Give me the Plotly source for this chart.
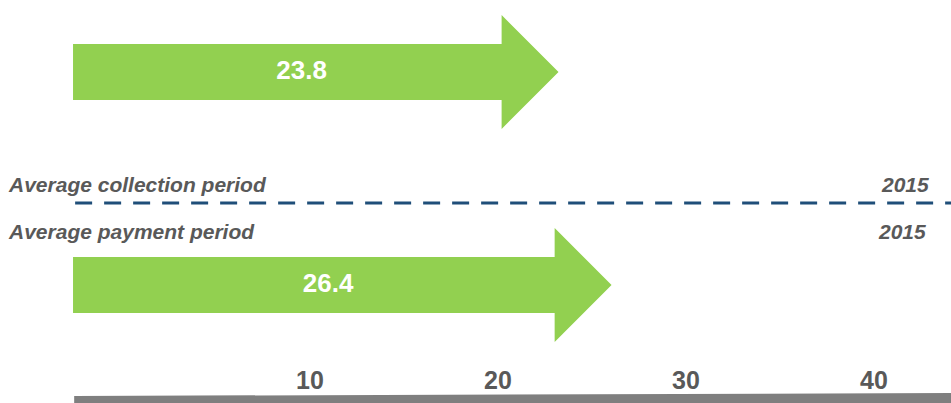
import plotly.graph_objects as go

# data
PERIODS = ["Average collection period", "Average payment period"]
DAYS = [23.8, 26.4]
YEAR = "2015"
ROW = [1, 0]                 # arrow row on the y scale
TICKS = [10, 20, 30, 40]

GREEN = "#92D050"
GRAY_TEXT = "#595959"
DASH_BLUE = "#1F4E79"

HEAD_LEN = 2.79      # arrow head length, in days
BODY_HALF = 0.1315   # half-height of arrow shaft (row units)
HEAD_HALF = 0.2676   # half-height of arrow head (row units)

fig = go.Figure()

for name, v, r in zip(PERIODS, DAYS, ROW):
    hb = v - HEAD_LEN
    xs = [0, hb, hb, v, hb, hb, 0, 0]
    ys = [r + BODY_HALF, r + BODY_HALF, r + HEAD_HALF, r,
          r - HEAD_HALF, r - BODY_HALF, r - BODY_HALF, r + BODY_HALF]
    fig.add_trace(go.Scatter(
        x=xs, y=ys, xaxis="x2", mode="lines", fill="toself",
        fillcolor=GREEN, line=dict(width=0, color=GREEN),
        hoverinfo="skip", showlegend=False, name=name,
    ))
    fig.add_trace(go.Scatter(
        x=[(v - HEAD_LEN / 2) / 2], y=[r], xaxis="x2", mode="text",
        text=[f"<b>{v}</b>"],
        textfont=dict(family="Liberation Sans, Arial", size=26, color="white"),
        hoverinfo="skip", showlegend=False,
    ))

# dummy trace to hold the tick axis
fig.add_trace(go.Scatter(x=TICKS, y=[None] * len(TICKS), mode="markers",
                         showlegend=False, hoverinfo="skip"))

label_font = dict(family="Liberation Sans, Arial", size=21, color=GRAY_TEXT)
annots = [
    (PERIODS[0], 0.0063, 0.4904, "left"),
    (PERIODS[1], 0.0063, 0.3609, "left"),
    (YEAR, 0.9790, 0.4904, "right"),
    (YEAR, 0.9758, 0.3636, "right"),
]
for txt, x, y, anchor in annots:
    fig.add_annotation(text=f"<b><i>{txt}</i></b>", x=x, y=y, xref="paper", yref="paper",
                       xanchor=anchor, yanchor="middle", showarrow=False, font=label_font)

# dashed separator
fig.add_shape(type="line", xref="paper", yref="paper", x0=0.079, x1=1.0, y0=0.4408, y1=0.4408,
              line=dict(color=DASH_BLUE, width=3, dash="17px,12px"))
# grey base bar
fig.add_shape(type="path", xref="paper", yref="paper",
              path="M 0.078,-0.0909 L 1,-0.0826 L 1,-0.12 L 0.078,-0.12 Z",
              fillcolor="#7F7F7F", line=dict(width=0))

fig.update_layout(
    width=951, height=403,
    margin=dict(l=0, r=0, t=0, b=40, autoexpand=False),
    plot_bgcolor="white", paper_bgcolor="white",
    xaxis=dict(range=[-6.49, 44.1], tickvals=TICKS, showgrid=False, zeroline=False,
               showline=False, ticks="", automargin=False,
               tickfont=dict(family="Liberation Sans Narrow, Liberation Sans",
                             size=25, color=GRAY_TEXT, weight="bold")),
    xaxis2=dict(range=[-3.58, 43.04], overlaying="x", visible=False),
    yaxis=dict(range=[-0.366, 1.338], visible=False),
    showlegend=False,
)

fig.write_html("out.html", config={"displayModeBar": False},
               post_script="document.body.style.margin = '0';")
